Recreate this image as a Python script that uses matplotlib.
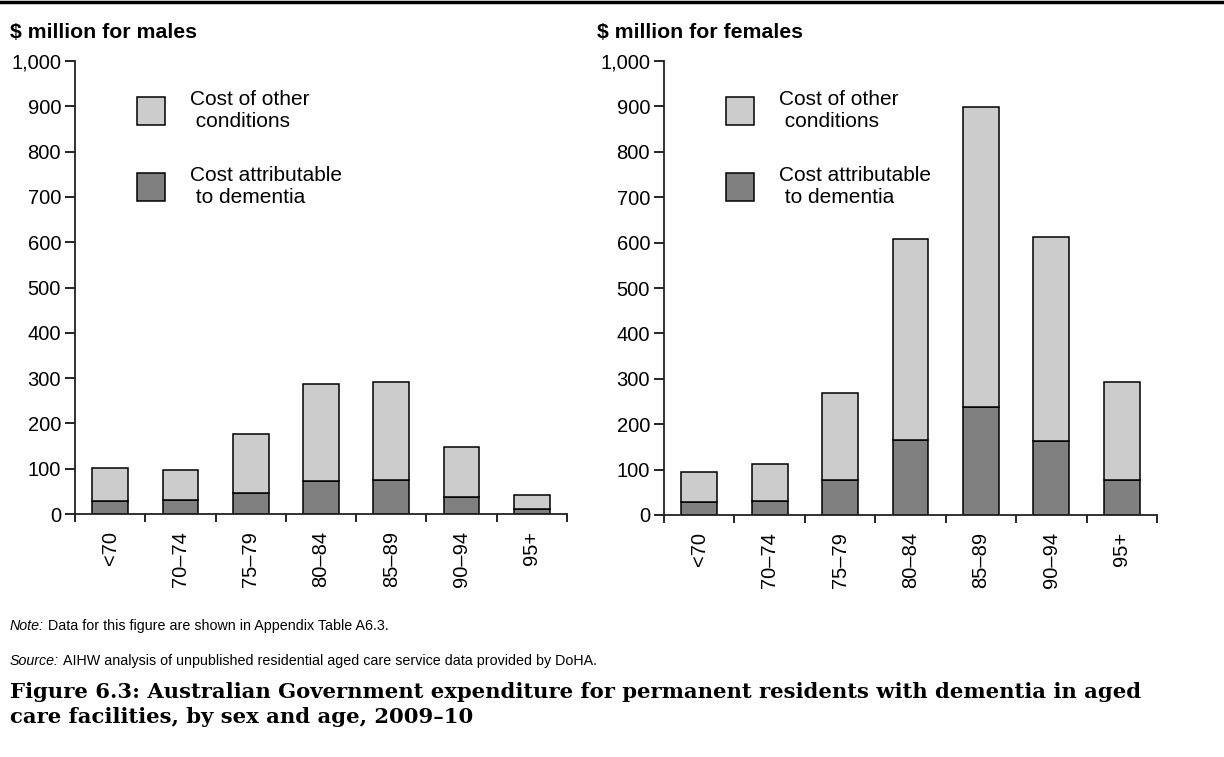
import numpy as np
import matplotlib
matplotlib.use("Agg")
import matplotlib.pyplot as plt
from matplotlib.lines import Line2D

plt.rcParams['font.family'] = ['Liberation Sans', 'DejaVu Sans']

# values ($ million)
ages = ["<70", "70–74", "75–79", "80–84", "85–89", "90–94", "95+"]
male_dementia = [28, 32, 46, 73, 76, 38, 11]
male_total = [102, 97, 177, 288, 291, 147, 42]
female_dementia = [29, 31, 76, 165, 238, 163, 78]
female_total = [95, 112, 269, 608, 899, 612, 294]
yticks = [0, 100, 200, 300, 400, 500, 600, 700, 800, 900, 1000]

light = "#cccccc"
dark = "#808080"


def panel(ax, dementia, total):
    x = np.arange(len(ages))
    dementia = np.array(dementia)
    other = np.array(total) - dementia
    b1 = ax.bar(x, dementia, width=0.51, color=dark, edgecolor="black", linewidth=1.1)
    b2 = ax.bar(x, other, bottom=dementia, width=0.51, color=light,
                edgecolor="black", linewidth=1.1)
    ax.set_xlim(-0.5, len(ages) - 0.5)
    ax.set_ylim(0, 1000)
    ax.set_yticks(yticks)
    ax.set_yticklabels(["{:,}".format(v) for v in yticks], fontsize=14.5)
    ax.set_xticks(x)
    ax.set_xticklabels(ages, rotation=90, fontsize=14.5)
    ax.set_xticks(np.arange(len(ages) + 1) - 0.5, minor=True)
    ax.tick_params(axis="x", which="major", length=0, pad=12)
    ax.tick_params(axis="x", which="minor", length=6, width=1.2, direction="out")
    ax.tick_params(axis="y", length=7, width=1.2, pad=3)
    for s in ["top", "right"]:
        ax.spines[s].set_visible(False)
    for s in ["left", "bottom"]:
        ax.spines[s].set_linewidth(1.3)
        ax.spines[s].set_color("#222222")
    ax.legend([b2, b1], ["Cost of other\n conditions", "Cost attributable\n to dementia"],
              loc="upper left", bbox_to_anchor=(0.126, 0.937), frameon=False,
              fontsize=15, handlelength=1.35, handleheight=1.7,
              handletextpad=1.2, labelspacing=1.7, borderpad=0, borderaxespad=0)


fig = plt.figure(figsize=(12.24, 7.57), dpi=100)
ax1 = fig.add_axes([75 / 1224, 1 - 514 / 757, 492 / 1224, 453 / 757])
ax2 = fig.add_axes([664 / 1224, 1 - 515 / 757, 493 / 1224, 454 / 757])
panel(ax1, male_dementia, male_total)
panel(ax2, female_dementia, female_total)

fig.text(10 / 1224, 1 - 32 / 757, "$ million for males", fontsize=15.3,
         fontweight="bold", va="center")
fig.text(597 / 1224, 1 - 32 / 757, "$ million for females", fontsize=15.3,
         fontweight="bold", va="center")

fig.add_artist(Line2D([0, 1], [0.998, 0.998], color="black", linewidth=2.5))

fig.canvas.draw()
renderer = fig.canvas.get_renderer()


def label_line(y, lead, rest, size=10.3):
    t = fig.text(10 / 1224, 1 - y / 757, lead, fontsize=size, va="center", style="italic")
    bb = t.get_window_extent(renderer)
    fig.text(bb.x1 / 1224 + 4 / 1224, 1 - y / 757, rest, fontsize=size, va="center")


label_line(626, "Note:", "Data for this figure are shown in Appendix Table A6.3.")
label_line(661, "Source:",
           "AIHW analysis of unpublished residential aged care service data provided by DoHA.")

cap1 = "Figure 6.3: Australian Government expenditure for permanent residents with dementia in aged"
cap2 = "care facilities, by sex and age, 2009–10"
cap_font = ['DejaVu Serif']
c1 = fig.text(10 / 1224, 1 - 692 / 757, cap1, fontsize=15, fontweight="bold",
              va="center", family=cap_font)
w = c1.get_window_extent(renderer).width
size = 15 * 1135 / w
c1.set_fontsize(size)
fig.text(10 / 1224, 1 - 717 / 757, cap2, fontsize=size, fontweight="bold",
         va="center", family=cap_font)

fig.savefig("out.png", dpi=100)
